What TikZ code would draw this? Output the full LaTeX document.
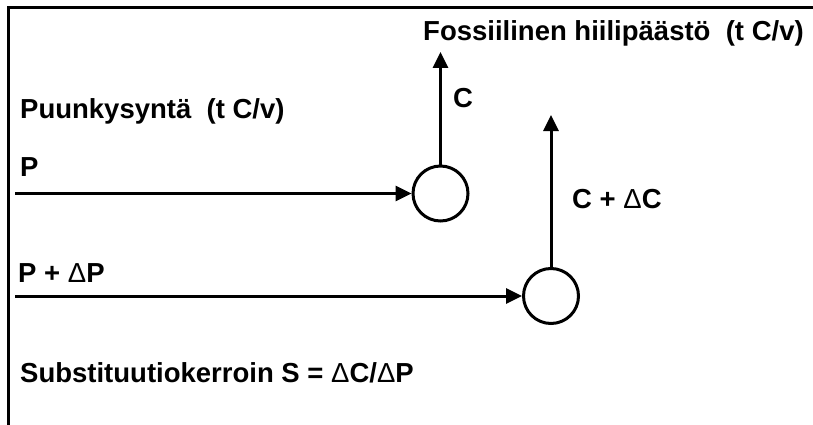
\documentclass[tikz,border=0pt]{standalone}
\usepackage{fontspec}
\setmainfont{Liberation Sans}
\usetikzlibrary{arrows.meta}
\newcommand{\dlt}{{\mdseries\char"0394}}
\tikzset{
  lbl/.style={anchor=base west, inner sep=0pt, font=\bfseries\fontsize{27.5}{32}\selectfont},
  junction/.style={circle, draw, line width=3pt, minimum size=55pt, inner sep=0pt},
  flow/.style={line width=3pt, -{Triangle[length=16pt,width=15pt]}},
  frame/.style={line width=3pt}
}
\begin{document}
\begin{tikzpicture}[x=1pt,y=-1pt]
  \useasboundingbox (0,0) rectangle (813,425);
  % open frame: top and left edges only
  \coordinate (ftl) at (8,8);
  \coordinate (ftr) at (813,8);
  \coordinate (fbl) at (8,425);
  \draw[frame] (ftr) -- (ftl) -- (fbl);

  % mixing points
  \node[junction] (m1) at (440.5,193.5) {};
  \node[junction] (m2) at (551,296) {};

  % inputs
  \coordinate (pin)  at (15,193.5);
  \coordinate (dpin) at (15,296);
  \draw[flow] (pin) -- (m1);
  \draw[flow] (dpin) -- (m2);

  % outputs
  \coordinate (cout)  at (440.5,52);
  \coordinate (dcout) at (551,115);
  \draw[flow] (m1.north) -- (cout);
  \draw[flow] (m2.north) -- (dcout);

  % labels
  \node[lbl] (tf)  at (423,41)  {Fossiilinen hiilipäästö\ \ (t C/v)};
  \node[lbl] (td)  at (20,118)  {Puunkysyntä\ \ (t C/v)};
  \node[lbl] (tp)  at (20,176)  {P};
  \node[lbl] (tc)  at (453,108) {C};
  \node[lbl] (tdc) at (572,208) {C + \dlt C};
  \node[lbl] (tdp) at (18,282)  {P + \dlt P};
  \node[lbl] (ts)  at (20,382)  {Substituutiokerroin S = \dlt C/\dlt P};
\end{tikzpicture}
\end{document}
